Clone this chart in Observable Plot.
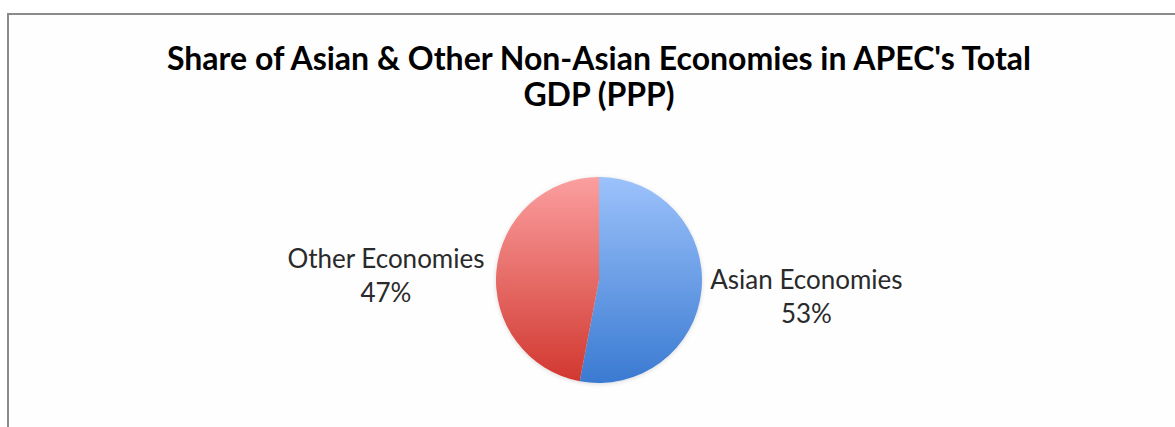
<!DOCTYPE html>
<html>
<head>
<meta charset="utf-8">
<script src="https://cdn.jsdelivr.net/npm/d3@7"></script>
<script src="https://cdn.jsdelivr.net/npm/@observablehq/plot@0.6"></script>
<style>
  html, body { margin: 0; padding: 0; background: #fff; overflow: hidden; width: 1175px; height: 427px; }
  #frame { position: absolute; left: 7px; top: 13px; width: 1300px; height: 600px;
           border-left: 2.5px solid #8a8a8a; border-top: 2.5px solid #8a8a8a; background: #fefefe; }
  #wrap { position: absolute; left: 0; top: 0; width: 1175px; }
  #title { width: 1198px; height: 130px; box-sizing: border-box; padding-top: 40px;
           text-align: center; font-family: Lato, "Open Sans", sans-serif; font-weight: 700;
           font-size: 32px; line-height: 36px; color: #000; white-space: nowrap; }
  svg { display: block; }
</style>
</head>
<body>
<div id="frame"></div>
<div id="wrap">
  <div id="title">Share of Asian &amp; Other Non-Asian Economies in APEC's Total<br>GDP (PPP)</div>
  <div id="chart"></div>
</div>
<script>
// ---- data ----
const categories = ["Asian Economies", "Other Economies"];
const shares = [53, 47];
const topColors = ["#9cc2fb", "#fb9f9f"];
const bottomColors = ["#3a7ad1", "#d1372f"];

// ---- layout ----
const W = 1175, H = 297;
const cx = 599, cy = 150, R = 103;
const labelFont = "26px Lato";
const labelSize = 26;

const data = categories.map((name, i) => ({name, share: shares[i], top: topColors[i], bottom: bottomColors[i]}));
const arcs = d3.pie().sort(null).value(d => d.share)(data);

const ctx = document.createElement("canvas").getContext("2d");
ctx.font = labelFont;

const labels = arcs.map(a => {
  const mid = (a.startAngle + a.endAngle) / 2;
  const lines = [a.data.name, `${a.data.share}%`];
  const half = d3.max(lines, l => ctx.measureText(l).width) / 2;
  const sx = Math.sin(mid);
  return {
    x: 1.08 * sx,
    y: 1.08 * Math.cos(mid),
    text: lines.join("\n"),
    shift: sx >= 0 ? half : -half - 4
  };
});

function pieMark(index, scales) {
  const x0 = scales.x(0), y0 = scales.y(0);
  const r = scales.x(1) - scales.x(0);
  const g = d3.create("svg:g");
  const defs = g.append("defs");
  const f = defs.append("filter").attr("id", "shadow").attr("x", "-20%").attr("y", "-20%").attr("width", "140%").attr("height", "140%");
  f.append("feDropShadow").attr("dx", 0).attr("dy", 1).attr("stdDeviation", 2).attr("flood-color", "#000").attr("flood-opacity", 0.15);
  arcs.forEach((a, i) => {
    const lg = defs.append("linearGradient").attr("id", "grad" + i)
      .attr("gradientUnits", "userSpaceOnUse")
      .attr("x1", 0).attr("x2", 0).attr("y1", -r).attr("y2", r);
    lg.append("stop").attr("offset", "0%").attr("stop-color", a.data.top);
    lg.append("stop").attr("offset", "100%").attr("stop-color", a.data.bottom);
  });
  const arc = d3.arc().innerRadius(0).outerRadius(r);
  g.append("g").attr("transform", `translate(${x0},${y0})`).attr("filter", "url(#shadow)")
    .selectAll("path").data(arcs).join("path")
    .attr("d", arc)
    .attr("fill", (d, i) => `url(#grad${i})`);
  return g.node();
}

const chart = Plot.plot({
  width: W,
  height: H,
  margin: 0,
  x: {domain: [-1, 1], range: [cx - R, cx + R], axis: null},
  y: {domain: [-1, 1], range: [cy + R, cy - R], axis: null},
  style: {background: "transparent", overflow: "visible"},
  marks: [
    pieMark,
    ...labels.map(l => Plot.text([l], {
      x: "x", y: "y", text: "text", textAnchor: "middle", dx: l.shift, dy: 4,
      fontSize: labelSize, lineHeight: 1.3, fill: "#2a2a2a",
      fontFamily: "Lato, 'Open Sans', sans-serif"
    }))
  ]
});
document.getElementById("chart").appendChild(chart);
</script>
</body>
</html>
